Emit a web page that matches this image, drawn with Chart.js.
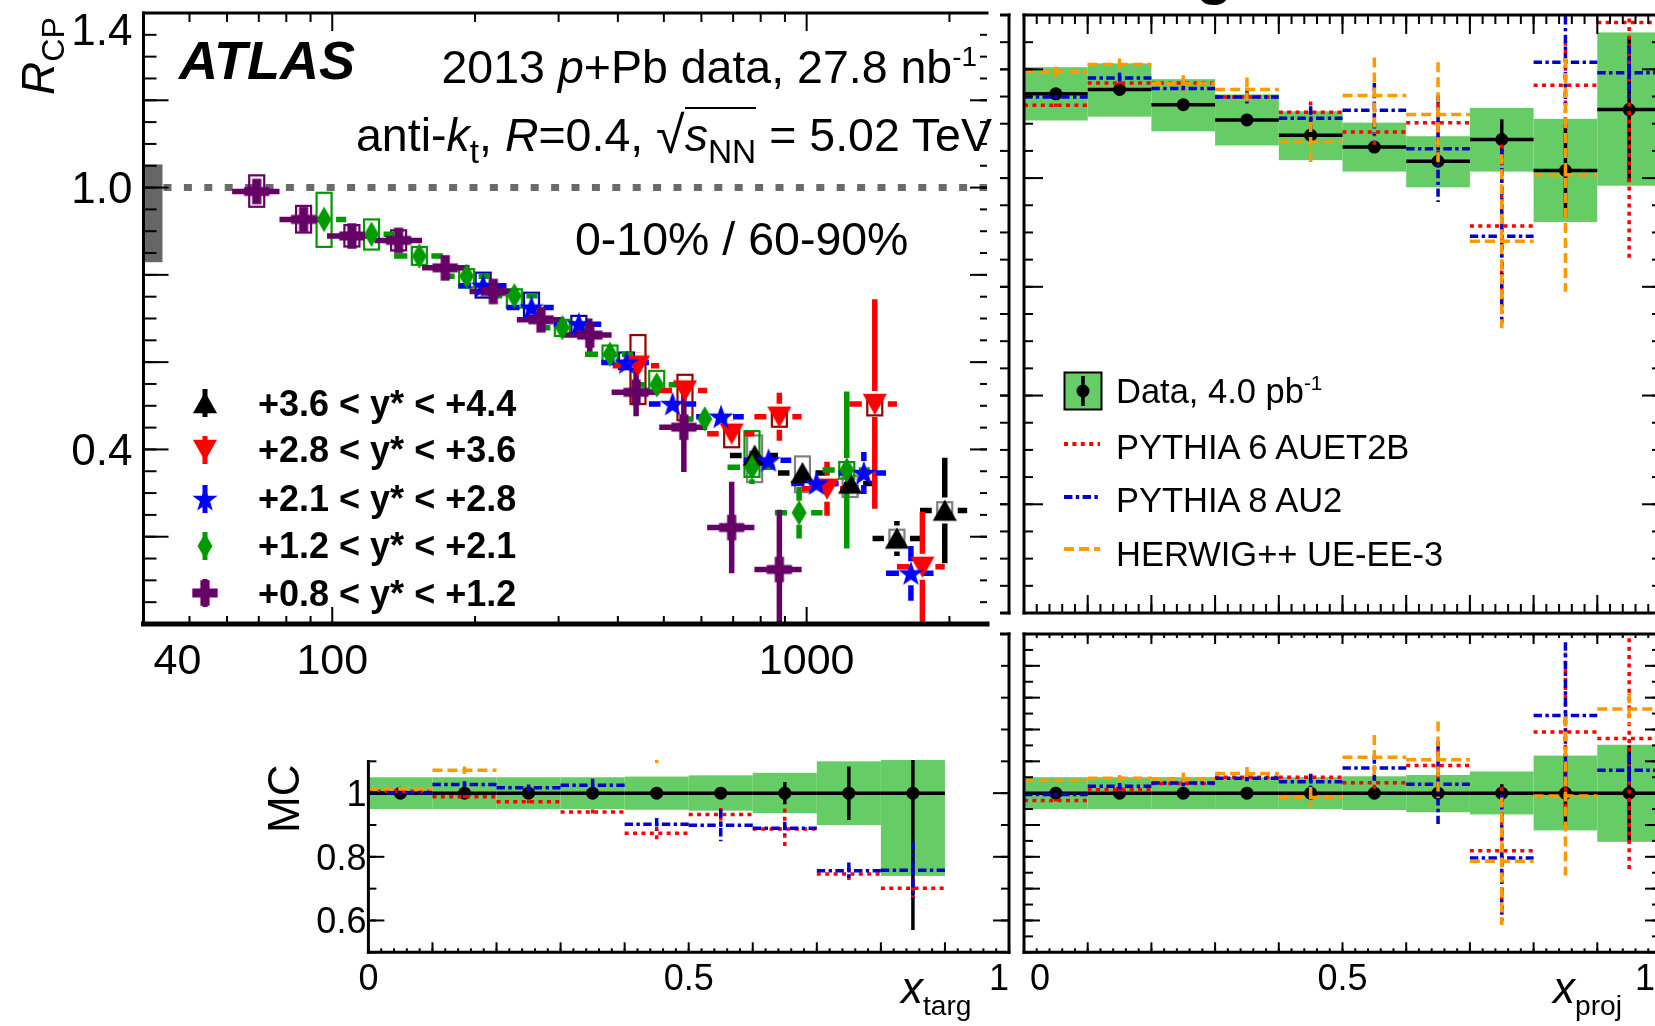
<!DOCTYPE html>
<html>
<head>
<meta charset="utf-8">
<title>ATLAS R_CP and x_targ / x_proj ratios</title>
<script src="https://cdn.jsdelivr.net/npm/chart.js@4.4.1/dist/chart.umd.min.js"></script>
<style>
  html, body { margin: 0; padding: 0; background: #fff; overflow: hidden; }
  #stage { position: relative; width: 1655px; height: 1026px; overflow: hidden; background: #fff;
           font-family: "Liberation Sans", Arial, Helvetica, sans-serif; color: #000; }
  #stage canvas { position: absolute; }
  .t { position: absolute; white-space: nowrap; line-height: 1; }
  .big { font-size: 46.5px; }
  .sub { font-size: 0.72em; position: relative; top: 0.36em; }
  .sup { font-size: 0.6em; position: relative; top: -0.62em; }
  .rot { transform-origin: 0 0; transform: rotate(-90deg); }
  .leg { font-weight: bold; font-size: 36px; }
  .mcleg { font-size: 34.5px; }
</style>
</head>
<body>
<div id="stage">
  <canvas id="targUpper" width="720" height="640" style="left:300px;top:0px"></canvas>
  <canvas id="targRatio" width="720" height="406" style="left:300px;top:620px"></canvas>
  <canvas id="rcp" width="1000" height="760" style="left:0px;top:0px"></canvas>
  <canvas id="projUpper" width="700" height="640" style="left:1000px;top:0px"></canvas>
  <canvas id="projRatio" width="700" height="406" style="left:1000px;top:620px"></canvas>

  <div class="t" style="left:1196px;top:-57px;font-size:60px;font-weight:bold">g</div>

  <div class="t rot" style="left:15px;top:95px;font-size:46px"><i>R</i><span class="sub" style="font-size:0.7em;top:0.3em">CP</span></div>
  <div class="t" style="left:179px;top:33px;font-size:54px;font-weight:bold;font-style:italic">ATLAS</div>
  <div class="t big" style="right:678px;top:44px">2013 <i>p</i>+Pb data, 27.8 nb<span class="sup">-1</span></div>
  <div class="t big" style="right:663px;top:107px">anti-<i>k</i><span class="sub">t</span>, <i>R</i>=0.4, <span style="font-size:1.12em;position:relative;top:0.04em">√</span><span style="border-top:2px solid #000"><i>s</i><span class="sub">NN</span></span> = 5.02 TeV</div>
  <div class="t big" style="left:575px;top:216px">0-10% / 60-90%</div>

  <div class="t leg" style="left:258px;top:386px">+3.6 &lt; y* &lt; +4.4</div>
  <div class="t leg" style="left:258px;top:432px">+2.8 &lt; y* &lt; +3.6</div>
  <div class="t leg" style="left:258px;top:481px">+2.1 &lt; y* &lt; +2.8</div>
  <div class="t leg" style="left:258px;top:528px">+1.2 &lt; y* &lt; +2.1</div>
  <div class="t leg" style="left:258px;top:576px">+0.8 &lt; y* &lt; +1.2</div>

  <div class="t mcleg" style="left:1116px;top:374px">Data, 4.0 pb<span class="sup">-1</span></div>
  <div class="t mcleg" style="left:1116px;top:430px">PYTHIA 6 AUET2B</div>
  <div class="t mcleg" style="left:1116px;top:483px">PYTHIA 8 AU2</div>
  <div class="t mcleg" style="left:1116px;top:537px">HERWIG++ UE-EE-3</div>

  <div class="t rot" style="left:262px;top:833px;font-size:44px">MC</div>
  <div class="t" style="left:901px;top:966px;font-size:44px"><i>x</i><span class="sub" style="font-size:0.64em;top:0.42em">targ</span></div>
  <div class="t" style="left:1553px;top:966px;font-size:44px"><i>x</i><span class="sub" style="font-size:0.64em;top:0.42em">proj</span></div>
</div>

<script>
const SANS = '"Liberation Sans", Arial, Helvetica, sans-serif';

// ---------------- R_CP panel (log x axis) ----------------
const normUnc = [0.829, 1.053];      // grey box on the left axis
const unity = 1.0;
const ptTickLabels = ['40', '100', '1000'];
const rcpTickLabels = ['1.4', '1.0', '0.4'];

// +0.8 < y* < +1.2
const purpleX = [69.3, 87.0, 110, 138, 173, 218.5, 275.5, 349, 437, 551, 695, 876];
const purpleEdges = [61.5, 77.4, 97.5, 122.8, 154.6, 194.7, 245, 308, 388, 489, 617, 776, 976];
const purpleY = [0.991, 0.927, 0.889, 0.879, 0.816, 0.762, 0.697, 0.662, 0.531, 0.451, 0.221, 0.125];
const purpleErr = [0.01, 0.01, 0.01, 0.01, 0.01, 0.015, 0.02, 0.038, 0.055, 0.103, 0.105, 0.137];
const purpleSysLo = [0.956, 0.897, 0.865, 0.856, null, null, null, null, null, null, null, null];
const purpleSysHi = [1.028, 0.958, 0.914, 0.902, null, null, null, null, null, null, null, null];

// +1.2 < y* < +2.1
const greenX = [96.1, 121, 152.6, 192, 242, 305.5, 385, 483, 610, 767, 964, 1215];
const greenEdges = [85, 107, 135, 171, 215, 271, 341, 430, 541, 681, 857, 1080, 1359];
const greenY = [0.927, 0.893, 0.843, 0.797, 0.752, 0.679, 0.618, 0.548, 0.470, 0.359, 0.255, 0.353];
const greenErr = [0.01, 0.01, 0.01, 0.01, 0.01, 0.01, 0.01, 0.01, 0.015, 0.038, 0.059, 0.18];
const greenSysLo = [0.864, 0.858, 0.823, 0.771, 0.725, 0.660, 0.599, 0.535, null, 0.337, null, 0.333];
const greenSysHi = [0.988, 0.927, 0.864, 0.813, 0.767, 0.697, 0.638, 0.580, null, 0.442, null, 0.371];

// +2.1 < y* < +2.8
const blueX = [208, 263, 331, 417, 521.5, 660, 831, 1049, 1320, 1659];
const blueEdges = [184.5, 233, 293, 369, 465, 585, 737, 928, 1168, 1470, 1851];
const blueY = [0.775, 0.725, 0.687, 0.599, 0.504, 0.475, 0.375, 0.322, 0.346, 0.116];
const blueErr = [0.01, 0.01, 0.01, 0.01, 0.015, 0.015, 0.02, 0.02, 0.048, 0.063];
const blueSysLo = [0.748, 0.706, 0.668, 0.584, null, null, null, null, null, null];
const blueSysHi = [0.805, 0.759, 0.706, 0.622, null, null, null, null, null, null];

// +2.8 < y* < +3.6
const redX = [441, 554, 695, 876, 1104, 1392, 1754];
const redEdges = [390, 489, 617, 776, 976, 1230, 1550, 1955];
const redY = [0.592, 0.535, 0.436, 0.475, 0.310, 0.504, 0.131];
const redErr = [0.03, 0.03, 0.03, 0.055, 0.062, 0.24, 0.126];
const redSysLo = [0.504, 0.467, 0.405, 0.452, null, 0.478, null];
const redSysHi = [0.662, 0.571, 0.451, 0.482, null, 0.523, null];

// +3.6 < y* < +4.4
const blackX = [777, 980, 1235, 1550, 1955];
const blackEdges = [689, 870, 1095, 1377, 1734, 2180];
const blackY = [0.386, 0.346, 0.322, 0.196, 0.260];
const blackErr = [0.01, 0.01, 0.01, 0.04, 0.121];
const blackSysLo = [0.325, 0.302, 0.291, 0.180, 0.241];
const blackSysHi = [0.432, 0.384, 0.340, 0.216, 0.279];

// ---------------- x_proj panels ----------------
const xProj = [0.05, 0.15, 0.25, 0.35, 0.45, 0.55, 0.65, 0.75, 0.85, 0.95];
const xProjEdges = [0, 0.1, 0.2, 0.3, 0.4, 0.5, 0.6, 0.7, 0.8, 0.9, 1.0];

const dataUp = [0.955, 0.963, 0.935, 0.907, 0.879, 0.857, 0.831, 0.871, 0.814, 0.926];
const dataUpErr = [0.004, 0.004, 0.004, 0.004, 0.006, 0.006, 0.01, 0.037, 0.086, 0.133];
const dataUpSysLo = [0.906, 0.913, 0.886, 0.860, 0.833, 0.812, 0.783, 0.812, 0.719, 0.786];
const dataUpSysHi = [1.004, 1.011, 0.982, 0.954, 0.923, 0.902, 0.877, 0.929, 0.909, 1.068];
const py6Up = [0.934, 0.975, 0.975, 0.949, 0.921, 0.885, 0.902, 0.712, 0.971, 1.086];
const py6UpErr = [0.003, 0.005, 0.005, 0.008, 0.02, 0.03, 0.05, 0.15, 0.08, 0.44];
const py8Up = [0.949, 0.984, 0.965, 0.949, 0.910, 0.925, 0.854, 0.693, 1.013, 0.994];
const py8UpErr = [0.003, 0.01, 0.005, 0.016, 0.022, 0.05, 0.098, 0.16, 0.085, 0.05];
const hwUp = [0.995, 1.009, 0.974, 0.963, 0.866, 0.952, 0.917, 0.684, 0.806, null];
const hwUpErr = [0.01, 0.011, 0.015, 0.022, 0.037, 0.07, 0.096, 0.16, 0.215, null];

const dataProjRatio = [1, 1, 1, 1, 1, 1, 1, 1, 1, 1];
const dataProjErr = [0.003, 0.003, 0.003, 0.003, 0.003, 0.003, 0.003, 0.028, 0.1, 0.15];
const projSysLo = [0.95, 0.95, 0.95, 0.95, 0.95, 0.947, 0.94, 0.933, 0.883, 0.847];
const projSysHi = [1.05, 1.05, 1.05, 1.05, 1.05, 1.053, 1.057, 1.068, 1.118, 1.152];
const py6Proj = [0.977, 1.011, 1.030, 1.050, 1.050, 1.033, 1.087, 0.819, 1.192, 1.172];
const py6ProjErr = [0.003, 0.005, 0.01, 0.01, 0.01, 0.02, 0.05, 0.2, 0.25, 0.42];
const py8Proj = [0.996, 1.022, 1.032, 1.047, 1.036, 1.079, 1.028, 0.796, 1.244, 1.072];
const py8ProjErr = [0.003, 0.01, 0.01, 0.01, 0.025, 0.04, 0.135, 0.2, 0.23, 0.05];
const hwProj = [1.040, 1.047, 1.045, 1.062, 0.986, 1.113, 1.105, 0.786, 0.991, 1.264];
const hwProjErr = [0.005, 0.01, 0.02, 0.02, 0.033, 0.07, 0.12, 0.2, 0.25, 0.05];

// ---------------- x_targ ratio panel ----------------
const xTarg = [0.05, 0.15, 0.25, 0.35, 0.45, 0.55, 0.65, 0.75, 0.85];
const xTargEdges = [0, 0.1, 0.2, 0.3, 0.4, 0.5, 0.6, 0.7, 0.8, 0.9];
const dataTargRatio = [1, 1, 1, 1, 1, 1, 1, 1, 1];
const dataTargErr = [0.003, 0.003, 0.003, 0.003, 0.003, 0.003, 0.035, 0.084, 0.43];
const targSysLo = [0.95, 0.95, 0.95, 0.95, 0.948, 0.945, 0.937, 0.90, 0.74];
const targSysHi = [1.05, 1.05, 1.05, 1.05, 1.052, 1.056, 1.064, 1.10, 1.26];
const py6Targ = [1.006, 0.989, 0.973, 0.941, 0.874, 0.933, 0.887, 0.746, 0.701];
const py6TargErr = [0.003, 0.005, 0.005, 0.008, 0.02, 0.02, 0.065, 0.02, 0.03];
const py8Targ = [1.001, 1.027, 1.017, 1.025, 0.902, 0.899, 0.890, 0.756, 0.758];
const py8TargErr = [0.003, 0.01, 0.01, 0.02, 0.02, 0.05, 0.02, 0.026, 0.09];
const hwTarg = [1.014, 1.072, null, null, 1.15, null, null, null, null];
const hwTargErr = [0.005, 0.012, null, null, 0.07, null, null, null, null];

const ratioTickLabels = ['0', '0.5', '1'];
const mcTickLabels = ['1', '0.8', '0.6'];

// ---------------- helpers ----------------
function range(a, b, s) {
  const out = [];
  for (let k = 0; a + k * s <= b + 1e-9; k++) out.push(+(a + k * s).toFixed(5));
  return out;
}
function line(ctx, x1, y1, x2, y2) {
  ctx.beginPath(); ctx.moveTo(x1, y1); ctx.lineTo(x2, y2); ctx.stroke();
}
function withClip(chart, fn) {
  const ctx = chart.ctx, a = chart.chartArea;
  ctx.save();
  ctx.beginPath(); ctx.rect(a.left, a.top, a.right - a.left, a.bottom - a.top); ctx.clip();
  fn(ctx, v => chart.scales.x.getPixelForValue(v), v => chart.scales.y.getPixelForValue(v));
  ctx.restore();
}

// ROOT-like markers used as Chart.js point styles
const MARK = 1.15;
function marker(shape, color) {
  const c = document.createElement('canvas');
  c.width = 28; c.height = 28;
  const g = c.getContext('2d');
  g.translate(14, 14); g.scale(MARK, MARK); g.translate(-12, -12);
  g.fillStyle = color;
  g.beginPath();
  if (shape === 'up') { g.moveTo(12, 2.5); g.lineTo(22.5, 21); g.lineTo(1.5, 21); }
  else if (shape === 'down') { g.moveTo(1.5, 3); g.lineTo(22.5, 3); g.lineTo(12, 21.5); }
  else if (shape === 'diamond') { g.moveTo(12, 1); g.lineTo(18.5, 12); g.lineTo(12, 23); g.lineTo(5.5, 12); }
  else if (shape === 'star') {
    for (let k = 0; k < 10; k++) {
      const r = k % 2 ? 4.6 : 11.5, ang = -Math.PI / 2 + k * Math.PI / 5;
      const x = 12 + r * Math.cos(ang), y = 12.8 + r * Math.sin(ang);
      if (k) g.lineTo(x, y); else g.moveTo(x, y);
    }
  }
  else if (shape === 'cross') { g.rect(8, 1, 8, 22); g.rect(1, 8, 22, 8); }
  g.closePath();
  g.fill();
  return c;
}

// frame, inward ticks and tick labels drawn from the chart's scales
function framePlugin(cfg) {
  return {
    id: 'rootFrame',
    beforeDraw(chart) {
      if (!cfg.background) return;
      const ctx = chart.ctx;
      ctx.save(); ctx.fillStyle = cfg.background; ctx.fillRect(0, 0, chart.width, chart.height); ctx.restore();
    },
    afterDraw(chart) {
      const ctx = chart.ctx, a = chart.chartArea, sx = chart.scales.x, sy = chart.scales.y;
      ctx.save();
      ctx.strokeStyle = '#000'; ctx.fillStyle = '#000';
      ctx.lineWidth = 2;
      for (const t of cfg.ticks) {
        for (const v of t.values) {
          if (t.side === 'bottom' || t.side === 'top') {
            const x = sx.getPixelForValue(v);
            if (t.side === 'bottom') line(ctx, x, a.bottom, x, a.bottom - t.len);
            else line(ctx, x, a.top, x, a.top + t.len);
          } else {
            const y = sy.getPixelForValue(v);
            if (t.side === 'left') line(ctx, a.left, y, a.left + t.len, y);
            else line(ctx, a.right, y, a.right - t.len, y);
          }
        }
      }
      ctx.lineCap = 'square';
      const f = cfg.frame;
      if (f.top) { ctx.lineWidth = f.top; line(ctx, a.left, a.top, a.right, a.top); }
      if (f.bottom) { ctx.lineWidth = f.bottom; line(ctx, a.left, a.bottom, a.right, a.bottom); }
      if (f.left) { ctx.lineWidth = f.left; line(ctx, a.left, a.top, a.left, a.bottom); }
      if (f.right) { ctx.lineWidth = f.right; line(ctx, a.right, a.top, a.right, a.bottom); }

      if (cfg.xLabels) {
        const L = cfg.xLabels;
        ctx.font = L.size + 'px ' + SANS; ctx.textAlign = 'left'; ctx.textBaseline = 'alphabetic';
        L.texts.forEach(txt => {
          const w = ctx.measureText(txt).width;
          let x = sx.getPixelForValue(parseFloat(txt)) - w / 2;
          if (L.padLeft !== undefined) x = Math.max(x, a.left + L.padLeft);
          x = Math.min(x, (L.maxRight !== undefined ? L.maxRight : a.right) - w);
          ctx.fillText(txt, x, a.bottom + L.offset + 0.358 * L.size);
        });
      }
      if (cfg.yLabels) {
        const L = cfg.yLabels;
        ctx.font = L.size + 'px ' + SANS; ctx.textAlign = 'right'; ctx.textBaseline = 'alphabetic';
        L.texts.forEach(txt => {
          let base = sy.getPixelForValue(parseFloat(txt)) + 0.358 * L.size;
          base = Math.max(base, a.top + 0.716 * L.size);
          ctx.fillText(txt, a.left - L.gap, base);
        });
      }
      ctx.restore();
    }
  };
}

// bins: green systematic bands, data bars, open boxes, MC histograms
const binPlot = {
  id: 'binPlot',
  beforeDatasetsDraw(chart) {
    const sets = chart.data.datasets.slice().reverse();
    withClip(chart, (ctx, X, Y) => {
      for (const ds of sets) if (ds.mode === 'data') {
        ctx.fillStyle = ds.bandColor;
        ds.data.forEach((p, i) => {
          if (ds.sysLo[i] == null) return;
          const x1 = X(ds.lo[i]), x2 = X(ds.hi[i]), y1 = Y(ds.sysHi[i]), y2 = Y(ds.sysLo[i]);
          ctx.fillRect(x1, y1, x2 - x1, y2 - y1);
        });
      }
      for (const ds of sets) if (ds.mode === 'data') {
        ctx.strokeStyle = '#000'; ctx.lineWidth = 3.5;
        ds.data.forEach((p, i) => {
          line(ctx, X(ds.lo[i]), Y(p.y), X(ds.hi[i]), Y(p.y));
          line(ctx, X(p.x), Y(p.y - ds.err[i]), X(p.x), Y(p.y + ds.err[i]));
        });
      }
      for (const ds of sets) if (ds.mode === 'atlas') {
        ctx.strokeStyle = ds.sysColor; ctx.lineWidth = 2.2;
        ds.data.forEach((p, i) => {
          if (ds.sysLo[i] == null) return;
          const x = X(p.x), y1 = Y(ds.sysHi[i]), y2 = Y(ds.sysLo[i]);
          ctx.strokeRect(x - 7.5, y1, 15, y2 - y1);
        });
      }
      for (const ds of sets) if (ds.mode === 'atlas') {
        ctx.strokeStyle = ds.barColor; ctx.lineWidth = 5.5;
        const g = ds.gap;
        ds.data.forEach((p, i) => {
          const x = X(p.x), y = Y(p.y), xl = X(ds.lo[i]), xh = X(ds.hi[i]);
          const yt = Y(p.y + ds.err[i]), yb = Y(p.y - ds.err[i]);
          if (x - g > xl) line(ctx, xl, y, x - g, y);
          if (xh > x + g) line(ctx, x + g, y, xh, y);
          if (y - g > yt) line(ctx, x, yt, x, y - g);
          if (yb > y + g) line(ctx, x, y + g, x, yb);
        });
      }
    });
  },
  afterDatasetsDraw(chart) {
    const sets = chart.data.datasets.slice().reverse();
    withClip(chart, (ctx, X, Y) => {
      for (const ds of sets) if (ds.mode === 'mc') {
        ctx.strokeStyle = ds.lineColor; ctx.lineWidth = 3.5; ctx.setLineDash(ds.dash);
        ds.data.forEach((p, i) => {
          if (p.y == null) return;
          line(ctx, X(ds.lo[i]), Y(p.y), X(ds.hi[i]), Y(p.y));
          if (ds.err[i]) line(ctx, X(p.x), Y(p.y + ds.err[i]), X(p.x), Y(p.y - ds.err[i]));
        });
      }
    });
  }
};

// grey normalisation box and dashed unity line of the R_CP panel
const rcpExtras = {
  id: 'rcpExtras',
  beforeDatasetsDraw(chart) {
    const ctx = chart.ctx, a = chart.chartArea, sy = chart.scales.y;
    const yTop = sy.getPixelForValue(normUnc[1]), yBot = sy.getPixelForValue(normUnc[0]);
    ctx.save();
    ctx.fillStyle = '#666666';
    ctx.fillRect(a.left, yTop, 19, yBot - yTop);
    const y1 = sy.getPixelForValue(unity);
    ctx.strokeStyle = '#6b6b6b'; ctx.lineWidth = 7; ctx.setLineDash([8, 12.4]);
    line(ctx, a.left + 20, y1, a.right, y1);
    ctx.restore();
  }
};

function atlasSet(label, xs, edges, ys, err, sysLo, sysHi, color, sysColor, shape, gap) {
  return {
    label, mode: 'atlas',
    data: xs.map((x, i) => ({ x, y: ys[i] })),
    lo: edges.slice(0, -1), hi: edges.slice(1),
    err, sysLo, sysHi, barColor: color, sysColor, gap,
    pointStyle: marker(shape, color), pointRadius: 13, borderWidth: 0,
    backgroundColor: color, borderColor: color
  };
}
function dataSet(xs, edges, ys, err, sysLo, sysHi) {
  return {
    label: 'Data', mode: 'data',
    data: xs.map((x, i) => ({ x, y: ys[i] })),
    lo: edges.slice(0, -1), hi: edges.slice(1),
    err, sysLo, sysHi, bandColor: '#66cc66',
    pointStyle: 'circle', pointRadius: 6.5, borderWidth: 0,
    backgroundColor: '#000', borderColor: '#000'
  };
}
function mcSet(label, xs, edges, ys, err, color, dash) {
  return {
    label, mode: 'mc',
    data: xs.map((x, i) => ({ x, y: ys[i] })),
    lo: edges.slice(0, -1), hi: edges.slice(1),
    err, lineColor: color, dash,
    pointRadius: 0, borderWidth: 0, backgroundColor: color, borderColor: color
  };
}

const DOT = [4, 4.4], DASHDOT = [8.4, 3.4, 3.4, 3.4], DASH = [10, 5];
const C_RED = '#ff0000', C_BLUE = '#0000cc', C_ORANGE = '#ff9900';

function build(id, pad, xScale, yScale, datasets, frameCfg, extra) {
  return new Chart(document.getElementById(id), {
    type: 'scatter',
    data: { datasets },
    options: {
      responsive: false, animation: false, events: [],
      layout: { padding: pad },
      scales: {
        x: Object.assign({ display: false }, xScale),
        y: Object.assign({ display: false }, yScale)
      },
      plugins: { legend: { display: false }, tooltip: { enabled: false } }
    },
    plugins: (extra || []).concat([binPlot, framePlugin(frameCfg)])
  });
}

function ticksSet(sidesX, sidesY, xMaj, xMin, yMaj, yMin) {
  const t = [];
  sidesX.forEach(s => { t.push({ side: s.side, values: xMin, len: s.min }); t.push({ side: s.side, values: xMaj, len: s.maj }); });
  sidesY.forEach(s => { t.push({ side: s.side, values: yMin, len: s.min }); t.push({ side: s.side, values: yMaj, len: s.maj }); });
  return t;
}

// ---- hidden upper x_targ frame (only its right edge shows) ----
build('targUpper', { left: 68.4, right: 11, top: 15, bottom: 27 },
  { type: 'linear', min: 0, max: 1 }, { type: 'linear', min: 0, max: 1.1 }, [],
  { frame: { top: 3, bottom: 3, left: 3, right: 3 },
    ticks: ticksSet([{ side: 'bottom', maj: 18, min: 9 }, { side: 'top', maj: 19, min: 9 }],
                    [{ side: 'left', maj: 19, min: 9 }, { side: 'right', maj: 19, min: 9 }],
                    range(0, 1, 0.1), range(0, 1, 0.02), range(0, 1.1, 0.2), range(0, 1.1, 0.05)) });

// ---- x_targ ratio panel ----
build('targRatio', { left: 68.4, right: 11, top: 14, bottom: 73.7 },
  { type: 'linear', min: 0, max: 1 }, { type: 'linear', min: 0.5, max: 1.5 },
  [
    dataSet(xTarg, xTargEdges, dataTargRatio, dataTargErr, targSysLo, targSysHi),
    mcSet('HERWIG++ UE-EE-3', xTarg, xTargEdges, hwTarg, hwTargErr, C_ORANGE, DASH),
    mcSet('PYTHIA 8 AU2', xTarg, xTargEdges, py8Targ, py8TargErr, C_BLUE, DASHDOT),
    mcSet('PYTHIA 6 AUET2B', xTarg, xTargEdges, py6Targ, py6TargErr, C_RED, DOT)
  ],
  { frame: { top: 3, bottom: 3, left: 3, right: 3 },
    ticks: ticksSet([{ side: 'bottom', maj: 10, min: 4 }, { side: 'top', maj: 10, min: 4 }],
                    [{ side: 'left', maj: 16, min: 8 }, { side: 'right', maj: 16, min: 8 }],
                    range(0, 1, 0.1), range(0, 1, 0.02), [0.6, 0.8, 1.0], range(0.5, 1.5, 0.1)),
    xLabels: { texts: ratioTickLabels, size: 36, offset: 24.7 },
    yLabels: { texts: mcTickLabels, size: 36, gap: 2 } });

// ---- R_CP panel ----
build('rcp', { left: 143.5, right: 0, top: 11, bottom: 136 },
  { type: 'logarithmic', min: 40, max: 2400 }, { type: 'linear', min: 0, max: 1.4 },
  [
    atlasSet('+0.8 < y* < +1.2', purpleX, purpleEdges, purpleY, purpleErr, purpleSysLo, purpleSysHi, '#660066', '#660066', 'cross', 0),
    atlasSet('+1.2 < y* < +2.1', greenX, greenEdges, greenY, greenErr, greenSysLo, greenSysHi, '#009900', '#009900', 'diamond', 12),
    atlasSet('+2.1 < y* < +2.8', blueX, blueEdges, blueY, blueErr, blueSysLo, blueSysHi, '#0000ff', '#0000aa', 'star', 12),
    atlasSet('+2.8 < y* < +3.6', redX, redEdges, redY, redErr, redSysLo, redSysHi, '#ff0000', '#990000', 'down', 13),
    atlasSet('+3.6 < y* < +4.4', blackX, blackEdges, blackY, blackErr, blackSysLo, blackSysHi, '#000000', '#808080', 'up', 13)
  ],
  { background: '#ffffff',
    frame: { top: 3, bottom: 5, left: 3, right: 0 },
    ticks: ticksSet([{ side: 'bottom', maj: 17, min: 8 }, { side: 'top', maj: 18, min: 9 }],
                    [{ side: 'left', maj: 25, min: 13 }, { side: 'right', maj: 17, min: 7 }],
                    [100, 1000], [50, 60, 70, 80, 90, 200, 300, 400, 500, 600, 700, 800, 900, 2000],
                    range(0, 1.4, 0.2), range(0, 1.4, 0.05)),
    xLabels: { texts: ptTickLabels, size: 43, offset: 35, padLeft: 10 },
    yLabels: { texts: rcpTickLabels, size: 44, gap: 11 } },
  [rcpExtras]);

// ---- upper x_proj panel ----
build('projUpper', { left: 24, right: 39, top: 15, bottom: 27 },
  { type: 'linear', min: 0, max: 1 }, { type: 'linear', min: 0, max: 1.1 },
  [
    dataSet(xProj, xProjEdges, dataUp, dataUpErr, dataUpSysLo, dataUpSysHi),
    mcSet('HERWIG++ UE-EE-3', xProj, xProjEdges, hwUp, hwUpErr, C_ORANGE, DASH),
    mcSet('PYTHIA 8 AU2', xProj, xProjEdges, py8Up, py8UpErr, C_BLUE, DASHDOT),
    mcSet('PYTHIA 6 AUET2B', xProj, xProjEdges, py6Up, py6UpErr, C_RED, DOT)
  ],
  { frame: { top: 3, bottom: 3, left: 3, right: 3 },
    ticks: ticksSet([{ side: 'bottom', maj: 18, min: 9 }, { side: 'top', maj: 19, min: 9 }],
                    [{ side: 'left', maj: 19, min: 9 }, { side: 'right', maj: 19, min: 9 }],
                    range(0, 1, 0.1), range(0, 1, 0.02), range(0, 1.1, 0.2), range(0, 1.1, 0.05)) });

// ---- x_proj ratio panel ----
build('projRatio', { left: 24, right: 39, top: 14, bottom: 73.7 },
  { type: 'linear', min: 0, max: 1 }, { type: 'linear', min: 0.5, max: 1.5 },
  [
    dataSet(xProj, xProjEdges, dataProjRatio, dataProjErr, projSysLo, projSysHi),
    mcSet('HERWIG++ UE-EE-3', xProj, xProjEdges, hwProj, hwProjErr, C_ORANGE, DASH),
    mcSet('PYTHIA 8 AU2', xProj, xProjEdges, py8Proj, py8ProjErr, C_BLUE, DASHDOT),
    mcSet('PYTHIA 6 AUET2B', xProj, xProjEdges, py6Proj, py6ProjErr, C_RED, DOT)
  ],
  { frame: { top: 3, bottom: 3, left: 3, right: 3 },
    ticks: ticksSet([{ side: 'bottom', maj: 10, min: 4 }, { side: 'top', maj: 10, min: 4 }],
                    [{ side: 'left', maj: 16, min: 9 }, { side: 'right', maj: 16, min: 9 }],
                    range(0, 1, 0.1), range(0, 1, 0.02), range(0.5, 1.5, 0.1), range(0.5, 1.5, 0.05)),
    xLabels: { texts: ratioTickLabels, size: 36, offset: 24.7, padLeft: 6, maxRight: 655 } });

// ---------------- legend symbols ----------------
function icon(cx, cy, w, h, draw) {
  const c = document.createElement('canvas');
  c.width = w; c.height = h;
  c.style.left = (cx - w / 2) + 'px'; c.style.top = (cy - h / 2) + 'px';
  document.getElementById('stage').appendChild(c);
  draw(c.getContext('2d'), w, h);
}
const rcpLegend = [
  { shape: 'up', color: '#000000', y: 403 },
  { shape: 'down', color: '#ff0000', y: 450 },
  { shape: 'star', color: '#0000ff', y: 499 },
  { shape: 'diamond', color: '#009900', y: 546 },
  { shape: 'cross', color: '#660066', y: 593 }
];
rcpLegend.forEach(e => icon(204.6, e.y, 28, 34, (g, w, h) => {
  g.strokeStyle = e.color; g.lineWidth = 5;
  line(g, w / 2, 3, w / 2, h - 3);
  g.drawImage(marker(e.shape, e.color), w / 2 - 14, h / 2 - 14);
}));

icon(1082.5, 390.5, 40, 40, (g) => {
  g.fillStyle = '#66cc66'; g.fillRect(1.5, 1.5, 37, 37);
  g.strokeStyle = '#000'; g.lineWidth = 2; g.strokeRect(1.5, 1.5, 37, 37);
  g.lineWidth = 3.5; line(g, 20, 5, 20, 35);
  g.fillStyle = '#000'; g.beginPath(); g.arc(20, 20, 6.5, 0, Math.PI * 2); g.fill();
});
[{ y: 444, c: C_RED, d: DOT }, { y: 496.7, c: C_BLUE, d: DASHDOT }, { y: 549.3, c: C_ORANGE, d: DASH }]
  .forEach(e => icon(1082, e.y, 40, 8, (g) => {
    g.strokeStyle = e.c; g.lineWidth = 4; g.setLineDash(e.d);
    line(g, 2, 4, 38, 4);
  }));
</script>
</body>
</html>
